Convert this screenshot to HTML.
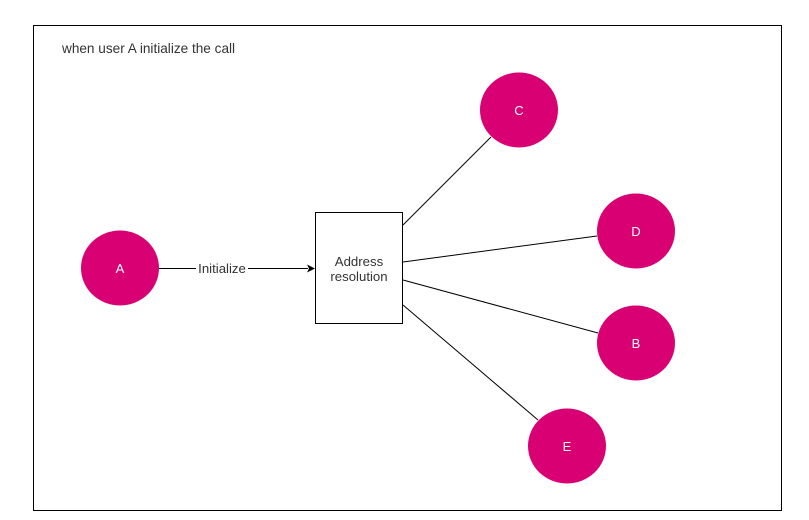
<!DOCTYPE html>
<html><head><style>html,body{margin:0;padding:0;background:#fff;}</style></head>
<body>
<svg width="809" height="520" viewBox="0 0 809 520" xmlns="http://www.w3.org/2000/svg" style="display:block">
<rect x="0" y="0" width="809" height="520" fill="#fff"/>
<rect x="33.5" y="25.5" width="748" height="485" fill="#fff" stroke="#000" stroke-width="1"/>
<text x="62" y="53" font-family="Liberation Sans, sans-serif" font-size="13.6" fill="#333">when user A initialize the call</text>
<g stroke="#000" stroke-width="1" fill="none">
<line x1="159" y1="268.5" x2="308" y2="268.5"/>
<line x1="403" y1="225" x2="491" y2="137"/>
<line x1="403" y1="262" x2="597" y2="236"/>
<line x1="403" y1="280" x2="598" y2="333"/>
<line x1="403" y1="305" x2="538" y2="420"/>
</g>
<polygon points="315,268.5 307,264.5 309,268.5 307,272.5" fill="#000"/>
<rect x="196" y="260" width="52" height="17" fill="#fff"/>
<text x="222" y="273" text-anchor="middle" font-family="Liberation Sans, sans-serif" font-size="13.2" fill="#333">Initialize</text>
<rect x="315.5" y="212.5" width="87" height="111" fill="#fff" stroke="#000"/>
<text x="359" y="266" text-anchor="middle" font-family="Liberation Sans, sans-serif" font-size="13.2" fill="#333">Address</text>
<text x="359" y="281" text-anchor="middle" font-family="Liberation Sans, sans-serif" font-size="13.2" fill="#333">resolution</text>
<g fill="#d80073">
<ellipse cx="120" cy="268" rx="39" ry="37.5"/>
<ellipse cx="519" cy="110" rx="39" ry="37.5"/>
<ellipse cx="636" cy="231" rx="39" ry="37.5"/>
<ellipse cx="636" cy="343" rx="39" ry="37.5"/>
<ellipse cx="567" cy="446" rx="39" ry="37.5"/>
</g>
<g font-family="Liberation Sans, sans-serif" font-size="13" fill="#fff" text-anchor="middle">
<text x="120" y="273">A</text>
<text x="519" y="115">C</text>
<text x="636" y="236">D</text>
<text x="636" y="348">B</text>
<text x="567" y="451">E</text>
</g>
</svg>
</body></html>
